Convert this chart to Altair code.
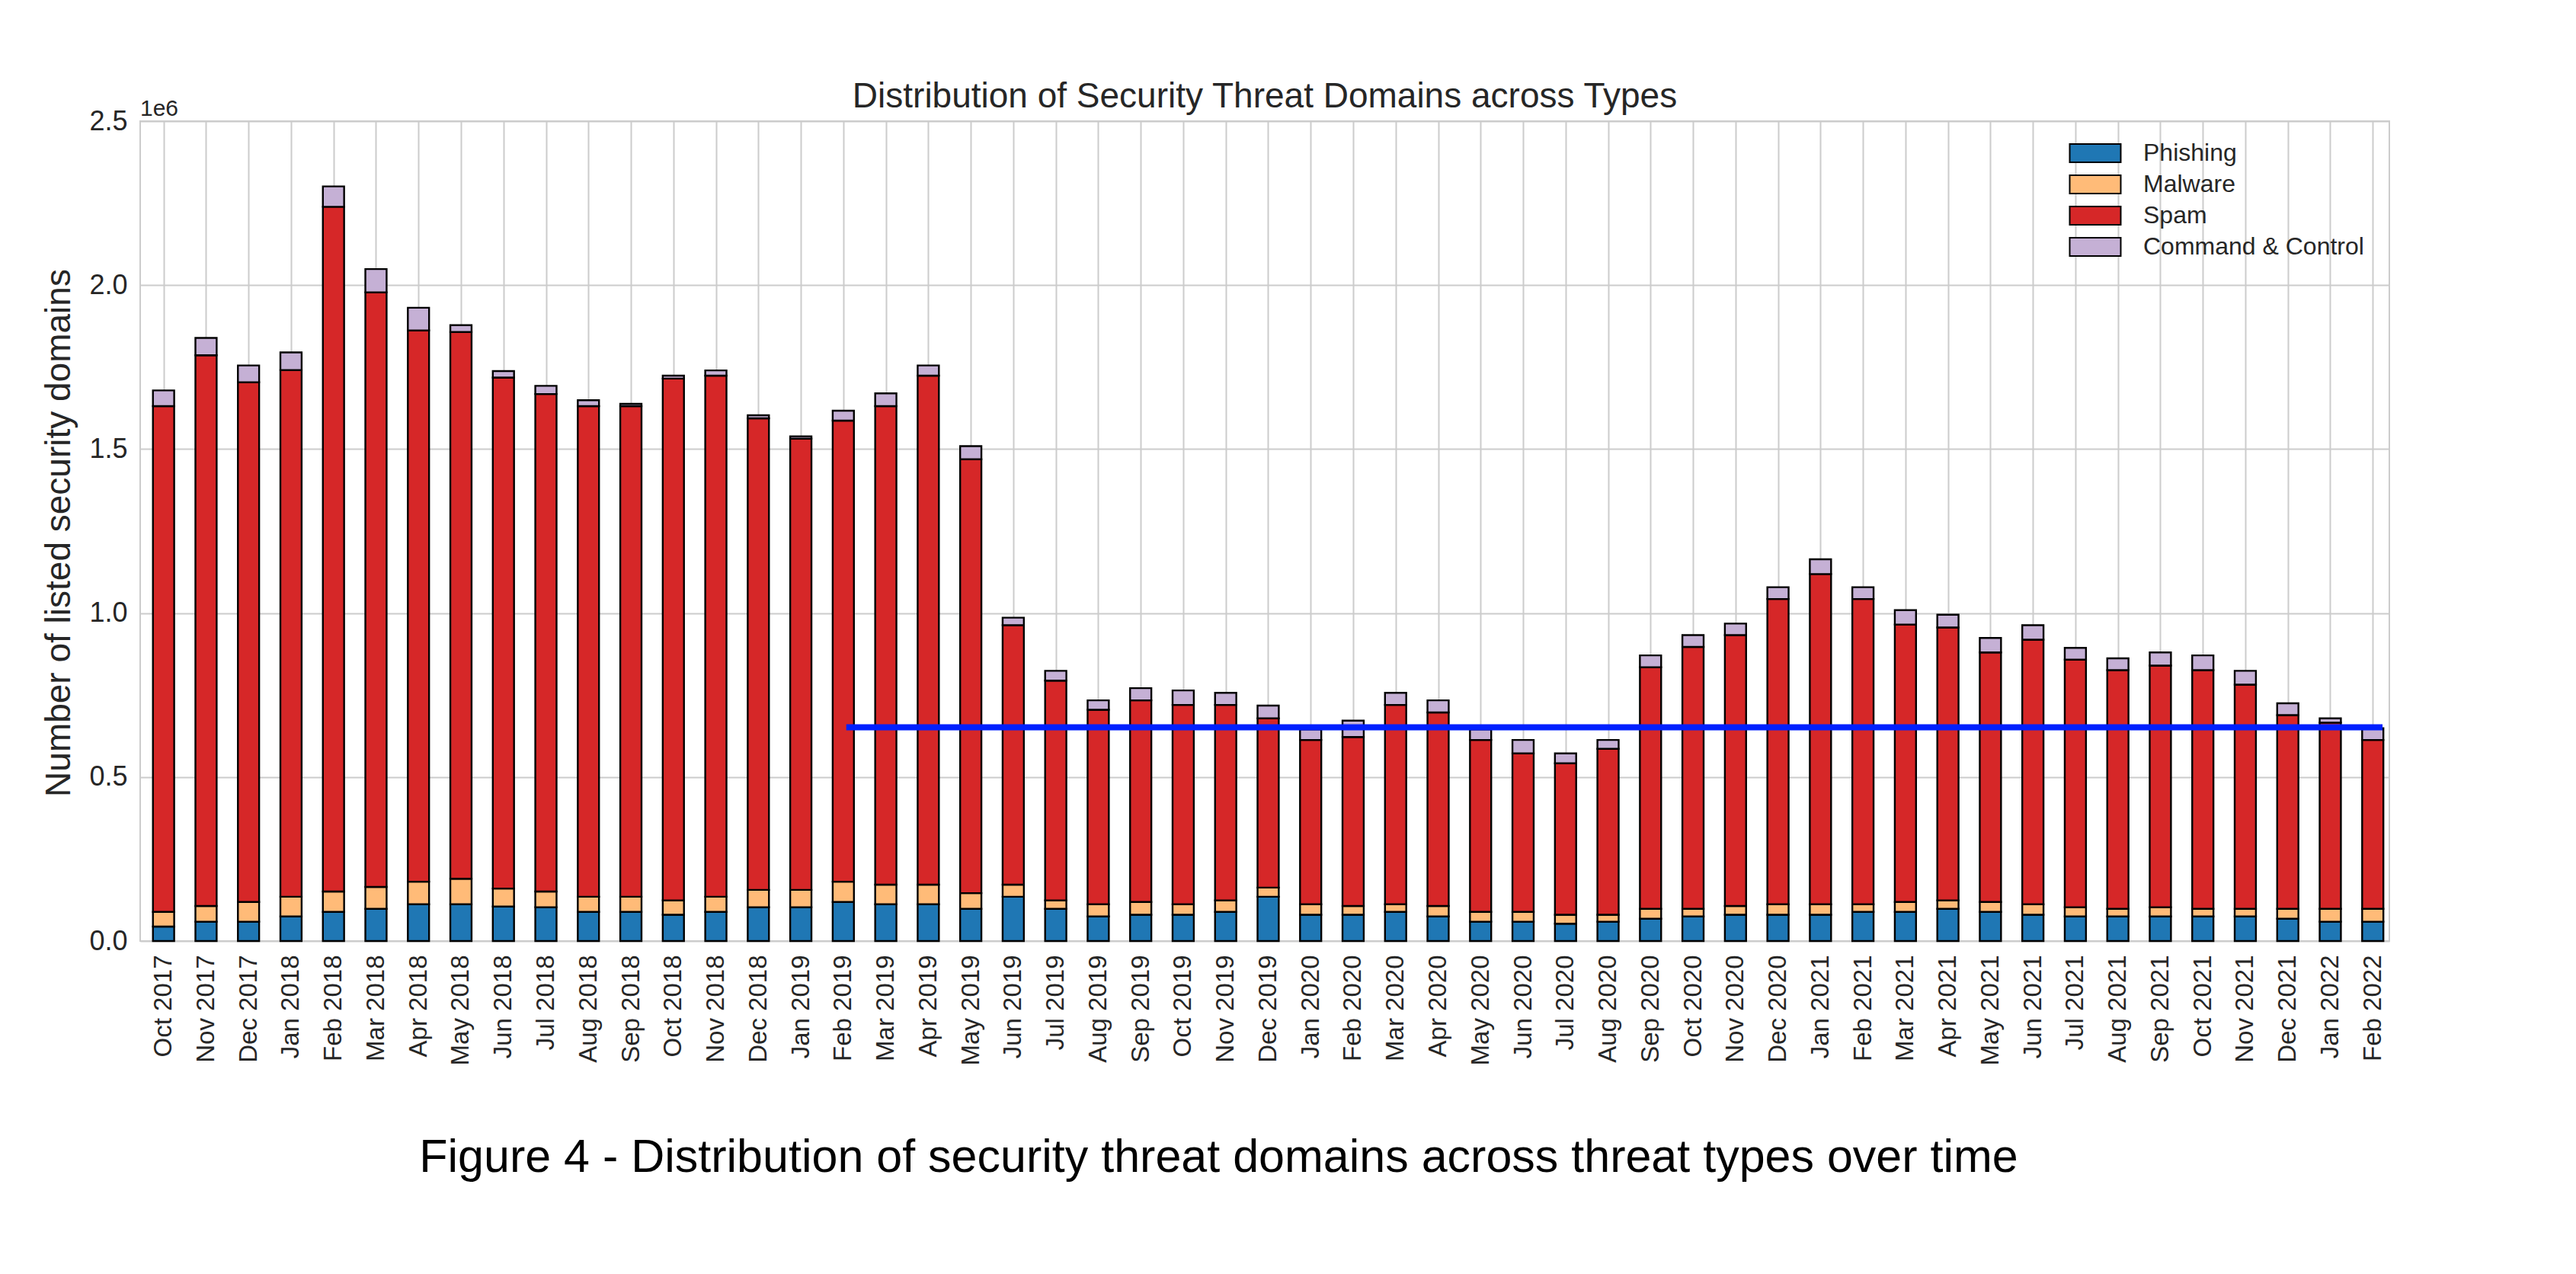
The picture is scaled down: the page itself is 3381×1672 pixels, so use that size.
import altair as alt
import pandas as pd

# ---- data (values in millions of domains) ----
months = [
    "Oct 2017", "Nov 2017", "Dec 2017",
    "Jan 2018", "Feb 2018", "Mar 2018", "Apr 2018", "May 2018", "Jun 2018",
    "Jul 2018", "Aug 2018", "Sep 2018", "Oct 2018", "Nov 2018", "Dec 2018",
    "Jan 2019", "Feb 2019", "Mar 2019", "Apr 2019", "May 2019", "Jun 2019",
    "Jul 2019", "Aug 2019", "Sep 2019", "Oct 2019", "Nov 2019", "Dec 2019",
    "Jan 2020", "Feb 2020", "Mar 2020", "Apr 2020", "May 2020", "Jun 2020",
    "Jul 2020", "Aug 2020", "Sep 2020", "Oct 2020", "Nov 2020", "Dec 2020",
    "Jan 2021", "Feb 2021", "Mar 2021", "Apr 2021", "May 2021", "Jun 2021",
    "Jul 2021", "Aug 2021", "Sep 2021", "Oct 2021", "Nov 2021", "Dec 2021",
    "Jan 2022", "Feb 2022",
]

phishing = [
    0.044, 0.059, 0.059, 0.075, 0.089, 0.098, 0.112, 0.112, 0.105,
    0.103, 0.089, 0.089, 0.080, 0.089, 0.103, 0.103, 0.119, 0.112,
    0.112, 0.098, 0.135, 0.098, 0.075, 0.080, 0.080, 0.089, 0.135,
    0.080, 0.080, 0.089, 0.075, 0.059, 0.059, 0.053, 0.059, 0.068,
    0.075, 0.080, 0.080, 0.080, 0.089, 0.089, 0.098, 0.089, 0.080,
    0.075, 0.075, 0.075, 0.075, 0.075, 0.068, 0.059, 0.059,
]
malware = [
    0.045, 0.048, 0.060, 0.060, 0.062, 0.067, 0.069, 0.078, 0.055,
    0.048, 0.046, 0.046, 0.044, 0.046, 0.053, 0.053, 0.062, 0.060,
    0.060, 0.048, 0.037, 0.026, 0.037, 0.039, 0.032, 0.035, 0.028,
    0.032, 0.027, 0.023, 0.032, 0.030, 0.030, 0.027, 0.021, 0.030,
    0.023, 0.027, 0.032, 0.032, 0.023, 0.030, 0.026, 0.030, 0.032,
    0.028, 0.023, 0.028, 0.023, 0.023, 0.030, 0.039, 0.039,
]
spam = [
    1.542, 1.679, 1.585, 1.606, 2.088, 1.813, 1.681, 1.667, 1.558,
    1.517, 1.496, 1.496, 1.591, 1.589, 1.438, 1.376, 1.406, 1.459,
    1.552, 1.323, 0.791, 0.670, 0.593, 0.615, 0.608, 0.596, 0.516,
    0.501, 0.515, 0.608, 0.590, 0.524, 0.483, 0.462, 0.506, 0.737,
    0.799, 0.826, 0.931, 1.007, 0.931, 0.846, 0.832, 0.761, 0.807,
    0.755, 0.728, 0.737, 0.728, 0.684, 0.591, 0.568, 0.515,
]
command_control = [
    0.048, 0.053, 0.051, 0.054, 0.062, 0.071, 0.069, 0.021, 0.020,
    0.025, 0.018, 0.007, 0.009, 0.016, 0.009, 0.007, 0.030, 0.039,
    0.031, 0.040, 0.023, 0.030, 0.029, 0.037, 0.044, 0.037, 0.039,
    0.032, 0.050, 0.037, 0.037, 0.032, 0.041, 0.030, 0.027, 0.036,
    0.036, 0.035, 0.036, 0.045, 0.036, 0.044, 0.039, 0.044, 0.044,
    0.036, 0.036, 0.040, 0.045, 0.042, 0.036, 0.013, 0.036,
]

types = ["Phishing", "Malware", "Spam", "Command & Control"]
colors = ["#1f77b4", "#ffbb78", "#d62728", "#c5b0d5"]

# blue reference line (in millions), spanning bar positions Feb 2019 .. Feb 2022
ref_value = [0.652]
ref_from = [16.07]
ref_to = [52.23]

# ---- long table ----
series = [phishing, malware, spam, command_control]
rows = []
for i, m in enumerate(months):
    for k, t in enumerate(types):
        rows.append({"idx": i, "month": m, "type": t, "order": k, "value": series[k][i]})
df = pd.DataFrame(rows)
line_df = pd.DataFrame({"x_start": ref_from, "x_end": ref_to, "y": ref_value})

FONT = "Liberation Sans"
TXT = "#262626"
GRID = "#cccccc"

x_scale = alt.Scale(domain=[-0.55, len(months) - 0.61], nice=False, zero=False)
y_scale = alt.Scale(domain=[0, 2.5], nice=False)

label_expr = "[" + ",".join("'" + m + "'" for m in months) + "][datum.value]"

x_axis = alt.Axis(
    values=list(range(len(months))),
    labelExpr=label_expr,
    labelAngle=-90,
    labelFontSize=33,
    labelPadding=18,
    labelColor=TXT,
    labelFont=FONT,
    ticks=False,
    tickSize=0,
    domain=False,
    grid=True,
    gridColor=GRID,
    gridWidth=2,
    title="Figure 4 - Distribution of security threat domains across threat types over time",
    titleFontSize=61,
    titleFont=FONT,
    titleFontWeight="normal",
    titleColor="black",
    titleX=1415,
    titleY=302,
    titleAlign="center",
    titleBaseline="alphabetic",
    labelOverlap=False,
)
y_axis = alt.Axis(
    values=[0, 0.5, 1.0, 1.5, 2.0, 2.5],
    format=".1f",
    labelFontSize=36,
    labelPadding=17,
    labelColor=TXT,
    labelFont=FONT,
    ticks=False,
    tickSize=0,
    domain=False,
    grid=True,
    gridColor=GRID,
    gridWidth=2,
    title="Number of listed security domains",
    titleFontSize=46,
    titleFont=FONT,
    titleFontWeight="normal",
    titleColor=TXT,
    titleAngle=-90,
    titleX=-93,
    titleY=540,
    titleAlign="center",
    titleBaseline="alphabetic",
)

bars = (
    alt.Chart(df)
    .transform_stack(
        as_=["v0", "v1"],
        stack="value",
        groupby=["idx"],
        sort=[alt.SortField(field="order", order="ascending")],
    )
    .transform_calculate(x0="datum.idx - 0.25", x1="datum.idx + 0.25")
    .mark_rect(stroke="black", strokeWidth=2.4)
    .encode(
        x=alt.X("x0:Q", scale=x_scale, axis=x_axis),
        x2="x1:Q",
        y=alt.Y("v0:Q", scale=y_scale, axis=y_axis),
        y2="v1:Q",
        color=alt.Color(
            "type:N",
            scale=alt.Scale(domain=types, range=colors),
            legend=alt.Legend(
                title=None,
                orient="none",
                legendX=2541,
                legendY=17,
                symbolType="M-1.4,-0.5H1.4V0.5H-1.4Z",
                symbolSize=2290,
                symbolStrokeColor="black",
                symbolStrokeWidth=2,
                symbolOpacity=1,
                labelFontSize=32,
                labelColor=TXT,
                labelFont=FONT,
                labelOffset=38,
                labelLimit=600,
                rowPadding=-1,
                padding=0,
            ),
        ),
    )
)

rule = (
    alt.Chart(line_df)
    .mark_rule(color="#0020ff", strokeWidth=8)
    .encode(
        x=alt.X("x_start:Q", scale=x_scale, axis=x_axis),
        x2="x_end:Q",
        y=alt.Y("y:Q", scale=y_scale, axis=y_axis),
    )
)

exp_text = (
    alt.Chart(pd.DataFrame({"t": ["1e6"]}))
    .mark_text(align="left", baseline="alphabetic", fontSize=30, color=TXT, font=FONT)
    .encode(text="t:N", x=alt.value(0), y=alt.value(-7))
)

chart = (
    alt.layer(bars, rule, exp_text)
    .properties(
        width=2952,
        height=1076,
        title=alt.Title(
            "Distribution of Security Threat Domains across Types",
            fontSize=46,
            font=FONT,
            fontWeight="normal",
            color=TXT,
            anchor="middle",
            offset=9,
            dy=32,
        ),
        autosize=alt.AutoSizeParams(type="none"),
        padding={"left": 176, "top": 151, "right": 237, "bottom": 420},
        background="white",
    )
    .configure_view(stroke=GRID, strokeWidth=2)
)

chart.save("out.html", embed_options={"renderer": "svg", "actions": False})
